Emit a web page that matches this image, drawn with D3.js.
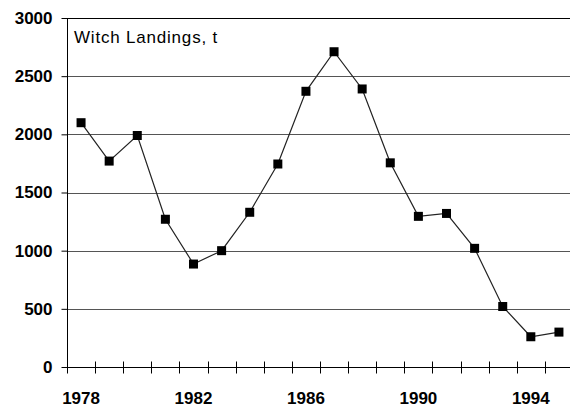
<!DOCTYPE html>
<html>
<head>
<meta charset="utf-8">
<script src="https://cdn.jsdelivr.net/npm/d3@7"></script>
<style>
  body { margin: 0; background: #fff; }
  svg { display: block; font-family: "Liberation Sans", Arial, sans-serif; }
  .lbl { font-family: "Liberation Sans", Arial, sans-serif; font-weight: 700; font-size: 17px; }
</style>
</head>
<body>
<svg id="chart" width="570" height="407"></svg>
<script>
const years = [1978, 1979, 1980, 1981, 1982, 1983, 1984, 1985, 1986, 1987,
               1988, 1989, 1990, 1991, 1992, 1993, 1994, 1995];
const landings = [2100, 1770, 1990, 1270, 885, 1000, 1330, 1745, 2370, 2710,
                  2390, 1755, 1295, 1320, 1020, 520, 260, 300];
const yTicks = [0, 500, 1000, 1500, 2000, 2500, 3000];
const xLabels = [1978, 1982, 1986, 1990, 1994];

const svg = d3.select("#chart");
const plotLeft = 67, plotRight = 573, plotTop = 18, plotBottom = 367;

const x = d3.scaleBand()
  .domain(years)
  .range([plotLeft, plotRight]);

const y = d3.scaleLinear()
  .domain([0, 3000])
  .range([plotBottom, plotTop]);

// gridlines
svg.append("g")
  .attr("stroke", "#555")
  .attr("shape-rendering", "crispEdges")
  .selectAll("line")
  .data(yTicks.filter(d => d > 0 && d < 3000))
  .join("line")
    .attr("x1", plotLeft)
    .attr("x2", 570)
    .attr("y1", d => Math.round(y(d)) + 0.5)
    .attr("y2", d => Math.round(y(d)) + 0.5);

// top frame line
svg.append("line")
  .attr("x1", plotLeft).attr("x2", 570)
  .attr("y1", Math.round(y(3000)) + 0.5).attr("y2", Math.round(y(3000)) + 0.5)
  .attr("stroke", "#000");

// y axis
const yAxis = svg.append("g")
  .attr("transform", `translate(${plotLeft + 0.5},0)`)
  .call(d3.axisLeft(y).tickValues(yTicks).tickSize(6).tickPadding(9).tickFormat(d3.format("d")))
  .attr("font-family", null)
  .attr("font-size", null);
yAxis.select(".domain").attr("stroke", "#000").attr("d", `M0,${plotTop}V${plotBottom}`);
yAxis.selectAll(".tick line").attr("stroke", "#000");
yAxis.selectAll(".tick text")
  .attr("class", "lbl")
  .attr("fill", "#000");

// x axis line and ticks at band boundaries
const xAxis = svg.append("g")
  .attr("transform", `translate(0,${Math.round(plotBottom) + 0.5})`);
xAxis.append("line")
  .attr("x1", plotLeft).attr("x2", 570)
  .attr("stroke", "#000");
xAxis.selectAll(".xtick")
  .data(years)
  .join("line")
    .attr("class", "xtick")
    .attr("x1", d => Math.round(x(d)) + 0.5)
    .attr("x2", d => Math.round(x(d)) + 0.5)
    .attr("y1", -6)
    .attr("y2", 6)
    .attr("stroke", "#000");
xAxis.selectAll(".xlabel")
  .data(xLabels)
  .join("text")
    .attr("class", "lbl")
    .attr("x", d => x(d) + x.bandwidth() / 2)
    .attr("y", 36)
    .attr("text-anchor", "middle")
    .text(d => d);

// series line
const cx = d => x(d) + x.bandwidth() / 2;
svg.append("path")
  .datum(years.map((yr, i) => [cx(yr), y(landings[i])]))
  .attr("fill", "none")
  .attr("stroke", "#222")
  .attr("stroke-width", 1.2)
  .attr("d", d3.line());

// markers
svg.append("g")
  .selectAll("rect")
  .data(years)
  .join("rect")
    .attr("x", d => cx(d) - 4.5)
    .attr("y", (d, i) => y(landings[i]) - 4.5)
    .attr("width", 9)
    .attr("height", 9)
    .attr("fill", "#000");

// title
svg.append("text")
  .attr("x", 74)
  .attr("y", 43)
  .attr("font-size", 17)
  .attr("letter-spacing", 0.8)
  .attr("fill", "#000")
  .text("Witch Landings, t");
</script>
</body>
</html>
